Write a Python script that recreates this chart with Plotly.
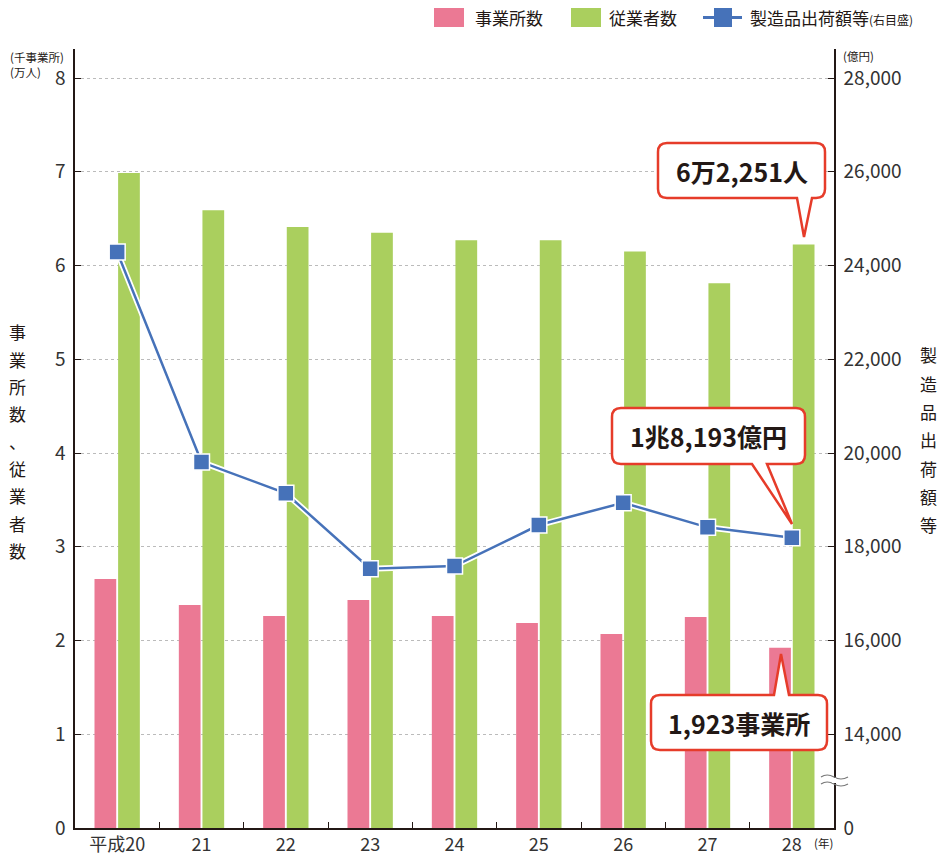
import plotly.graph_objects as go

# ---------------- data ----------------
categories = ["平成20", "21", "22", "23", "24", "25", "26", "27", "28"]
establishments = [2.656, 2.379, 2.261, 2.432, 2.261, 2.187, 2.069, 2.250, 1.923]   # 千事業所
employees = [6.987, 6.590, 6.410, 6.350, 6.270, 6.270, 6.150, 5.810, 6.2251]        # 万人
shipments = [24288, 19807, 19141, 17531, 17588, 18463, 18939, 18414, 18193]         # 億円
left_ticks = [0, 1, 2, 3, 4, 5, 6, 7, 8]
right_tickvals = [12000, 14000, 16000, 18000, 20000, 22000, 24000, 26000, 28000]
right_ticktext = ["0", "14,000", "16,000", "18,000", "20,000", "22,000", "24,000", "26,000", "28,000"]

PINK = "#eb7994"
GREEN = "#aacf5e"
BLUE = "#4672b9"
RED = "#e63c2a"
TXT = "#231815"
FONT = "Noto Sans CJK JP"

OFF = 8  # page body margin
W, H = 945 - OFF, 853 - OFF
PX0, PX1, PY0, PY1 = 75, 834, 828, 49   # plot area in window pixels
YTOP = (PY0 - PY1) / ((PY0 - 78) / 8.0)  # left-axis top value


def px(x):
    return (x - PX0) / (PX1 - PX0)


def py(y):
    return (PY0 - y) / (PY0 - PY1)


fig = go.Figure()
fig.add_trace(go.Bar(x=categories, y=establishments, name="事業所数",
                     marker=dict(color=PINK, line=dict(width=0)), showlegend=False))
fig.add_trace(go.Bar(x=categories, y=employees, name="従業者数",
                     marker=dict(color=GREEN, line=dict(width=0)), showlegend=False))
# white halo under line
fig.add_trace(go.Scatter(x=categories, y=shipments, yaxis="y2", mode="lines",
                         line=dict(color="white", width=6), hoverinfo="skip", showlegend=False))
fig.add_trace(go.Scatter(x=categories, y=shipments, yaxis="y2", mode="lines+markers",
                         name="製造品出荷額等",
                         line=dict(color=BLUE, width=2.5),
                         marker=dict(symbol="square", size=16, color=BLUE,
                                     line=dict(color="white", width=1.5)),
                         showlegend=False))

shapes = []
annotations = []


def callout(x0, y0, x1, y1, side, b0, b1, tx, ty, r=9):
    P = lambda x, y: f"{px(x):.5f},{py(y):.5f}"
    d = f"M {P(x0 + r, y0)} "
    if side == "top":
        d += f"L {P(b0, y0)} L {P(tx, ty)} L {P(b1, y0)} "
    d += f"L {P(x1 - r, y0)} Q {P(x1, y0)} {P(x1, y0 + r)} "
    d += f"L {P(x1, y1 - r)} Q {P(x1, y1)} {P(x1 - r, y1)} "
    if side == "bottom":
        d += f"L {P(b1, y1)} L {P(tx, ty)} L {P(b0, y1)} "
    d += f"L {P(x0 + r, y1)} Q {P(x0, y1)} {P(x0, y1 - r)} "
    d += f"L {P(x0, y0 + r)} Q {P(x0, y0)} {P(x0 + r, y0)} Z"
    shapes.append(dict(type="path", path=d, xref="paper", yref="paper",
                       fillcolor="white", line=dict(color=RED, width=2.5), layer="above"))


def text(x, y, s, size, xanchor="center", yanchor="middle", bold=False, color=TXT):
    if bold:
        s = f"<b>{s}</b>"
    annotations.append(dict(x=px(x), y=py(y), xref="paper", yref="paper", text=s,
                            showarrow=False, xanchor=xanchor, yanchor=yanchor,
                            font=dict(family=FONT, size=size, color=color)))


# callouts
callout(658, 143, 825, 198, "bottom", 797, 812, 804, 237)
text(741.5, 170.5, "6万2,251人", 25, bold=True)
callout(612, 408, 805, 464, "bottom", 752, 767, 792, 524)
text(708.5, 436, "1兆8,193億円", 25, bold=True)
callout(651, 695, 827, 750, "top", 774, 789, 781, 654)
text(739, 722.5, "1,923事業所", 25, bold=True)

# axis break mark on right axis
for yy in (777, 784):
    y = yy
    d = (f"M {px(821):.5f},{py(y):.5f} Q {px(827):.5f},{py(y - 4):.5f} {px(834):.5f},{py(y):.5f} "
         f"Q {px(841):.5f},{py(y + 4):.5f} {px(848):.5f},{py(y):.5f}")
    shapes.append(dict(type="path", path=d, xref="paper", yref="paper",
                       line=dict(color="#777777", width=1.2), layer="above"))
shapes.append(dict(type="rect", xref="paper", yref="paper", x0=px(832), x1=px(836),
                   y0=py(783), y1=py(778), fillcolor="white", line=dict(width=0), layer="above"))

# custom legend
shapes.append(dict(type="rect", xref="paper", yref="paper", x0=px(434), x1=px(464),
                   y0=py(27), y1=py(8), fillcolor=PINK, line=dict(width=0)))
text(473, 18, "事業所数", 17, xanchor="left")
shapes.append(dict(type="rect", xref="paper", yref="paper", x0=px(571), x1=px(601),
                   y0=py(27), y1=py(8), fillcolor=GREEN, line=dict(width=0)))
text(607, 18, "従業者数", 17, xanchor="left")
shapes.append(dict(type="line", xref="paper", yref="paper", x0=px(703), x1=px(742),
                   y0=py(17.5), y1=py(17.5), line=dict(color=BLUE, width=3)))
shapes.append(dict(type="rect", xref="paper", yref="paper", x0=px(714), x1=px(732),
                   y0=py(27), y1=py(8), fillcolor=BLUE, line=dict(width=0)))
text(748, 18, "製造品出荷額等<span style='font-size:12px'>(右目盛)</span>", 17, xanchor="left")

# units
text(8, 57, "(千事業所)", 11.5, xanchor="left")
text(8, 72, "(万人)", 11.5, xanchor="left")
text(841, 56, "(億円)", 11.5, xanchor="left")
text(812, 843, "(年)", 11.5, xanchor="left")

# vertical axis titles
left_title = "事業所数、従業者数"
for i, ch in enumerate(left_title):
    text(17, 332 + i * 27.3, ch, 17)
right_title = "製造品出荷額等"
for i, ch in enumerate(right_title):
    text(928, 355 + i * 28.3, ch, 17)

axis_font = dict(family=FONT, size=19, color="#333333")
x_font = dict(family=FONT, size=18, color="#333333")
fig.update_layout(
    width=W, height=H,
    margin=dict(l=PX0 - OFF, r=945 - PX1, t=PY1 - OFF, b=853 - PY0, pad=0, autoexpand=False),
    paper_bgcolor="white", plot_bgcolor="white",
    barmode="group", bargap=0.44, bargroupgap=0.08,
    font=dict(family=FONT, color=TXT),
    showlegend=False,
    shapes=shapes, annotations=annotations,
    xaxis=dict(type="category", range=[-0.5, 8.5], showline=True, linecolor="#231815",
               linewidth=1.5, ticks="inside", ticklen=6, tickcolor="#231815",
               tickson="boundaries", tickfont=x_font, showgrid=False, automargin=False,
               ticklabelstandoff=0),
    yaxis=dict(range=[0, YTOP], tickvals=left_ticks, showline=True, linecolor="#231815",
               linewidth=1.5, ticks="inside", ticklen=6, tickcolor="#231815",
               showgrid=True, gridcolor="#bbbbbb", griddash="dot", gridwidth=1,
               zeroline=False, tickfont=axis_font, ticklabelstandoff=4, automargin=False),
    yaxis2=dict(overlaying="y", side="right", range=[12000, 12000 + 2000 * YTOP],
                tickvals=right_tickvals, ticktext=right_ticktext, showline=True,
                linecolor="#231815", linewidth=1.5, ticks="inside", ticklen=6,
                tickcolor="#231815", showgrid=False, zeroline=False, tickfont=axis_font,
                ticklabelstandoff=4, automargin=False),
)

fig.write_html("out.html")
